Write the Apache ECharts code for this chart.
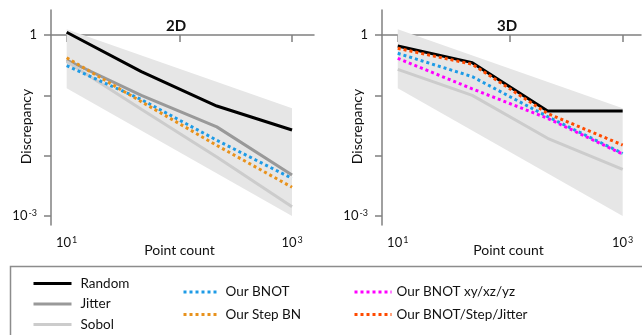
<!DOCTYPE html>
<html>
<head>
<meta charset="utf-8">
<script src="https://cdn.jsdelivr.net/npm/echarts@6/dist/echarts.min.js"></script>
<style>
html, body { margin: 0; padding: 0; background: #fff; }
#main { width: 642px; height: 335px; }
</style>
</head>
<body>
<div id="main"></div>
<script>
var myChart = echarts.init(document.getElementById('main'));

// point counts where the curves were sampled
var counts = [10, 46, 215, 1000];

// grey range band (same in both panels)
var bandX = [10, 1000];
var bandTop = [1.24, 0.061];
var bandBottom = [0.131, 0.001];

// 2D discrepancy
var random2d = [1.11, 0.247, 0.0665, 0.0266];
var jitter2d = [0.385, 0.1, 0.030, 0.0048];
var sobol2d = [0.363, 0.059, 0.0095, 0.00143];
var bnot2d = [0.31, 0.085, 0.018, 0.0042];
var stepbn2d = [0.42, 0.0785, 0.0148, 0.0030];

// 3D discrepancy
var random3d = [0.658, 0.348, 0.055, 0.055];
var sobol3d = [0.27, 0.1, 0.0194, 0.00594];
var bnot3d = [0.497, 0.204, 0.0443, 0.0109];
var bnotxyz3d = [0.41, 0.128, 0.0416, 0.0106];
var bnotStepJitter3d = [0.601, 0.327, 0.050, 0.0150];

// ticks, in powers of ten
var xTicks = [1, 2, 3];
var xLabels = [1, 3];
var yTicks = [0, -1, -2, -3];
var yLabels = [0, -3];

var font = 'Lato';
var axisColor = '#808080';

function pts(xs, ys) {
    return xs.map(function (x, i) { return [Math.log10(x), Math.log10(ys[i])]; });
}

function line(name, grid, xs, ys, color, dotted) {
    return {
        name: name,
        type: 'line',
        xAxisIndex: grid,
        yAxisIndex: grid,
        data: pts(xs, ys),
        symbol: 'none',
        z: 3,
        lineStyle: { color: color, width: 3, type: dotted ? [3, 3] : 'solid' },
        itemStyle: { color: color }
    };
}

// band polygon, placed through the axes with api.coord
function band(grid) {
    return {
        type: 'custom',
        xAxisIndex: grid,
        yAxisIndex: grid,
        silent: true,
        z: 1,
        data: bandX.map(function (x, i) {
            return [Math.log10(x), Math.log10(bandTop[i]), Math.log10(bandBottom[i])];
        }),
        encode: { x: 0, y: [1, 2] },
        renderItem: function (params, api) {
            if (params.dataIndex !== 0) return;
            var top = [], bottom = [];
            for (var i = 0; i < bandX.length; i++) {
                top.push(api.coord([Math.log10(bandX[i]), Math.log10(bandTop[i])]));
                bottom.unshift(api.coord([Math.log10(bandX[i]), Math.log10(bandBottom[i])]));
            }
            return {
                type: 'polygon',
                shape: { points: top.concat(bottom) },
                style: { fill: '#e6e6e6' }
            };
        }
    };
}

var supRich = {
    base: { fontFamily: font, fontSize: 13, color: '#111', lineHeight: 14 },
    sup: { fontFamily: font, fontSize: 9, color: '#111', verticalAlign: 'top', lineHeight: 14, padding: [0, 0, 0, 1] }
};

function xAxis(grid, min, max) {
    return {
        type: 'value', gridIndex: grid, min: min, max: max,
        axisLine: { lineStyle: { color: axisColor, width: 1.5 } },
        axisTick: { customValues: xTicks, length: 7, lineStyle: { color: axisColor, width: 1.5 } },
        axisLabel: {
            customValues: xLabels, margin: 11,
            formatter: function (v) { return '{base|10}{sup|' + Math.round(v) + '}'; },
            rich: supRich
        },
        splitLine: { show: false },
        name: 'Point count', nameLocation: 'middle', nameGap: 18, nameMoveOverlap: false,
        nameTextStyle: { fontFamily: font, fontSize: 14, color: '#111', padding: [0, 6, 0, 0] }
    };
}

function yAxis(grid) {
    return {
        type: 'value', gridIndex: grid, min: -3.149, max: 0.414,
        axisLine: { lineStyle: { color: axisColor, width: 1.5 } },
        axisTick: { customValues: yTicks, length: 7, lineStyle: { color: axisColor, width: 1.5 } },
        axisLabel: {
            customValues: yLabels, margin: 14,
            formatter: function (v) { return v === 0 ? '{base|1}' : '{base|10}{sup|' + Math.round(v) + '}'; },
            rich: supRich
        },
        splitLine: { show: false },
        name: 'Discrepancy', nameLocation: 'middle', nameGap: 18, nameMoveOverlap: false,
        nameTextStyle: { fontFamily: font, fontSize: 14, color: '#111', padding: [0, 0, 0, -18] }
    };
}

var legendText = { fontFamily: font, fontSize: 13.5, color: '#111', lineHeight: 14 };

var option = {
    animation: false,
    title: [
        { text: '2D', left: 166, top: 19, padding: 0,
          textStyle: { fontFamily: font, fontSize: 15, fontWeight: 'bold', color: '#111' } },
        { text: '3D', left: 497, top: 19, padding: 0,
          textStyle: { fontFamily: font, fontSize: 15, fontWeight: 'bold', color: '#111' } }
    ],
    grid: [
        { left: 51, top: 10, width: 263, height: 215, outerBoundsMode: 'none' },
        { left: 382, top: 10, width: 259, height: 215, outerBoundsMode: 'none' }
    ],
    xAxis: [xAxis(0, 0.861, 3.195), xAxis(1, 0.86, 3.163)],
    yAxis: [yAxis(0), yAxis(1)],
    legend: [
        { left: 32, top: 276.5, orient: 'vertical', padding: 0, itemWidth: 38, itemHeight: 14, itemGap: 6.5,
          data: ['Random', 'Jitter', 'Sobol'], lineStyle: { width: 'inherit' }, itemStyle: { opacity: 0 },
          textStyle: Object.assign({ padding: [0, 0, 0, 4] }, legendText) },
        { left: 182, top: 285, orient: 'vertical', padding: 0, itemWidth: 36, itemHeight: 14, itemGap: 8.6,
          data: ['Our BNOT', 'Our Step BN'], lineStyle: { width: 'inherit' }, itemStyle: { opacity: 0 },
          textStyle: Object.assign({ padding: [0, 0, 0, 1] }, legendText) },
        { left: 353, top: 285, orient: 'vertical', padding: 0, itemWidth: 37, itemHeight: 14, itemGap: 8.6,
          data: ['Our BNOT xy/xz/yz', 'Our BNOT/Step/Jitter'], lineStyle: { width: 'inherit' }, itemStyle: { opacity: 0 },
          textStyle: legendText }
    ],
    graphic: [
        { type: 'rect', shape: { x: 10.5, y: 266.5, width: 640, height: 80 },
          style: { fill: 'none', stroke: '#8c8c8c', lineWidth: 1.5 }, silent: true }
    ],
    series: [].concat(
        [band(0)],
        [
            line('Random', 0, counts, random2d, '#000000', false),
            line('Jitter', 0, counts, jitter2d, '#999999', false),
            line('Sobol', 0, counts, sobol2d, '#cccccc', false),
            line('Our BNOT', 0, counts, bnot2d, '#1e9be6', true),
            line('Our Step BN', 0, counts, stepbn2d, '#e8921c', true)
        ],
        [band(1)],
        [
            line('Sobol', 1, counts, sobol3d, '#cccccc', false),
            line('Random', 1, counts, random3d, '#000000', false),
            line('Our BNOT', 1, counts, bnot3d, '#1e9be6', true),
            line('Our BNOT xy/xz/yz', 1, counts, bnotxyz3d, '#ff00ff', true),
            line('Our BNOT/Step/Jitter', 1, counts, bnotStepJitter3d, '#ff4a00', true)
        ]
    )
};

myChart.setOption(option);
</script>
</body>
</html>
